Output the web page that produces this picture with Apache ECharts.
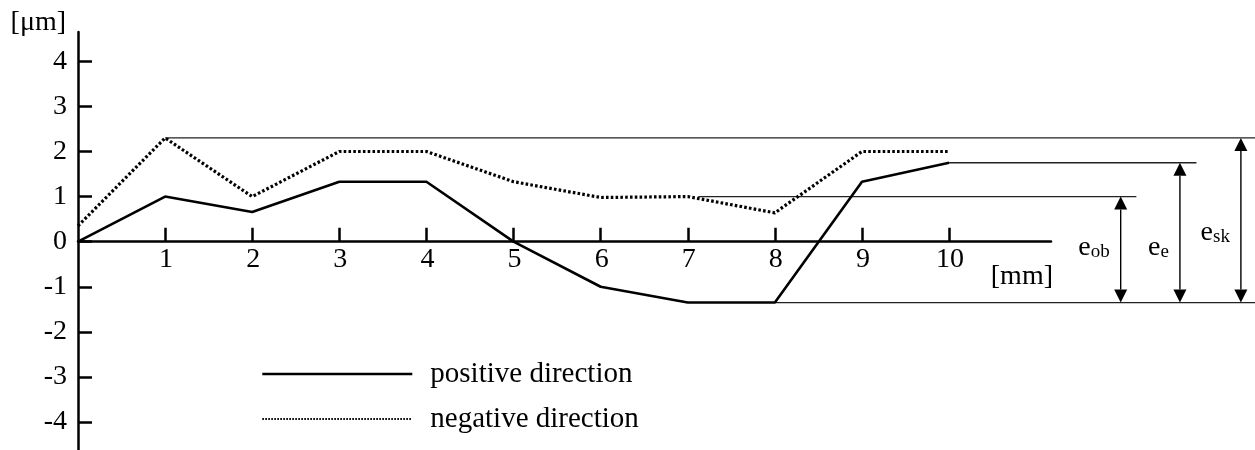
<!DOCTYPE html>
<html><head><meta charset="utf-8">
<script src="https://cdn.jsdelivr.net/npm/echarts@6/dist/echarts.min.js"></script>
<style>html,body{margin:0;padding:0;background:#fff}#c{width:1255px;height:450px}</style>
</head><body><div id="c"></div>
<script>
// ---- data ----
const xTicks = [1, 2, 3, 4, 5, 6, 7, 8, 9, 10];
const yTicks = [-4, -3, -2, -1, 0, 1, 2, 3, 4];
const positionsMm = [0, 1, 2, 3, 4, 5, 6, 7, 8, 9, 10];
const positiveDir = [0, 1.0, 0.66, 1.33, 1.33, 0, -1.0, -1.35, -1.35, 1.33, 1.75];
const negativeDir = [0.35, 2.3, 1.0, 2.0, 2.0, 1.33, 0.98, 1.0, 0.64, 2.0, 2.0];
const seriesNames = ['positive direction', 'negative direction'];
// reference levels (thin horizontal lines): level, from x, to x
const refLevels = [2.3, 1.75, 1.0, -1.35];
const refStarts = [1, 10, 7.12, 8];
const refEnds = [13.52, 12.84, 12.15, 13.52];
// dimension arrows: x position, top level, bottom level, label level
const arrowX = [11.97, 12.65, 13.35];
const arrowTop = [1.0, 1.75, 2.3];
const arrowBottom = [-1.35, -1.35, -1.35];
const arrowLabelY = [-0.13, -0.13, 0.2];
const arrowSubs = ['ob', 'e', 'sk'];

const F = 'Liberation Serif';
const chart = echarts.init(document.getElementById('c'), null, {renderer: 'canvas'});

const option = {
  animation: false,
  backgroundColor: '#fff',
  grid: {left: 78, top: 32, width: 973, height: 418, containLabel: false, outerBoundsMode: 'none'},
  legend: {
    orient: 'vertical', left: 261, top: 359.5, padding: 0,
    itemWidth: 150, itemHeight: 29, itemGap: 16, selectedMode: false,
    itemStyle: {opacity: 0},
    data: [
      {name: seriesNames[0], lineStyle: {color: '#000', width: 2.6}},
      {name: seriesNames[1], lineStyle: {color: '#000', width: 2.2, type: [1.6, 1.4]}}
    ],
    textStyle: {fontSize: 29, fontFamily: F, color: '#000', padding: [0, 0, 0, 13]}
  },
  xAxis: {
    type: 'value', min: 0, max: 11.17,
    axisLine: {onZero: true, lineStyle: {color: '#000', width: 2.5}},
    axisTick: {show: true, inside: true, length: 14, customValues: xTicks, lineStyle: {color: '#000', width: 2.5}},
    axisLabel: {show: false},
    splitLine: {show: false},
    name: '[mm]', nameLocation: 'end', nameGap: 2, nameMoveOverlap: false,
    nameTextStyle: {fontSize: 28, fontFamily: F, color: '#000', align: 'right', verticalAlign: 'top', padding: [21, 0, 0, 0]}
  },
  yAxis: {
    type: 'value', min: -4.62, max: 4.65,
    axisLine: {onZero: true, lineStyle: {color: '#000', width: 2.5}},
    axisTick: {show: true, inside: true, length: 14, customValues: yTicks, lineStyle: {color: '#000', width: 2.5}},
    axisLabel: {customValues: yTicks, margin: 11, fontSize: 28, fontFamily: F, color: '#000'},
    splitLine: {show: false},
    name: '[\u03bcm]', nameLocation: 'end', nameGap: 9,
    nameTextStyle: {fontSize: 28, fontFamily: F, color: '#000', align: 'right', verticalAlign: 'middle', padding: [0, 12, 0, 0]}
  },
  series: [
    {
      type: 'line', name: seriesNames[0], symbol: 'none', clip: false, z: 4,
      data: positionsMm.map((x, i) => [x, positiveDir[i]]),
      itemStyle: {color: '#000'},
      lineStyle: {color: '#000', width: 2.6}
    },
    {
      type: 'line', name: seriesNames[1], symbol: 'none', clip: false, z: 4,
      data: positionsMm.map((x, i) => [x, negativeDir[i]]),
      itemStyle: {color: '#000'},
      lineStyle: {color: '#000', width: 3.2, type: [2.6, 2.2]}
    },
    {
      // x-axis tick labels, placed on the zero line through the axis scale
      type: 'custom', silent: true, z: 5,
      data: xTicks.map(v => [v, 0]),
      renderItem: function (params, api) {
        const p = api.coord([api.value(0), api.value(1)]);
        return {type: 'text', x: p[0] + 1, y: p[1] + 4, style: {
          text: String(api.value(0)), align: 'center', verticalAlign: 'top',
          fontSize: 28, fontFamily: F, fill: '#000'
        }};
      }
    },
    {
      type: 'custom', silent: true, z: 2,
      data: refLevels.map((y, i) => [refStarts[i], y, refEnds[i]]),
      renderItem: function (params, api) {
        const a = api.coord([api.value(0), api.value(1)]);
        const b = api.coord([api.value(2), api.value(1)]);
        return {type: 'line', shape: {x1: a[0], y1: a[1], x2: b[0], y2: b[1]},
          style: {stroke: '#222', lineWidth: 1.3}};
      }
    },
    {
      type: 'custom', silent: true, z: 3,
      data: arrowX.map((x, i) => [x, arrowTop[i], arrowBottom[i], arrowLabelY[i]]),
      renderItem: function (params, api) {
        const i = params.dataIndex;
        const t = api.coord([api.value(0), api.value(1)]);
        const b = api.coord([api.value(0), api.value(2)]);
        const l = api.coord([api.value(0), api.value(3)]);
        const w = 6.5, h = 13;
        return {type: 'group', children: [
          {type: 'line', shape: {x1: t[0], y1: t[1] + h, x2: b[0], y2: b[1] - h}, style: {stroke: '#000', lineWidth: 1.4}},
          {type: 'polygon', shape: {points: [[t[0], t[1]], [t[0] - w, t[1] + h], [t[0] + w, t[1] + h]]}, style: {fill: '#000'}},
          {type: 'polygon', shape: {points: [[b[0], b[1]], [b[0] - w, b[1] - h], [b[0] + w, b[1] - h]]}, style: {fill: '#000'}},
          {type: 'text', x: l[0] - 11, y: l[1], style: {
            text: '{b|e}{s|' + arrowSubs[i] + '}', align: 'right', verticalAlign: 'middle',
            rich: {
              b: {fontSize: 28, fontFamily: F, fill: '#000', color: '#000', lineHeight: 28, verticalAlign: 'bottom'},
              s: {fontSize: 19, fontFamily: F, fill: '#000', color: '#000', lineHeight: 17, verticalAlign: 'bottom'}
            }
          }}
        ]};
      }
    }
  ]
};
chart.setOption(option);
</script>
</body></html>
